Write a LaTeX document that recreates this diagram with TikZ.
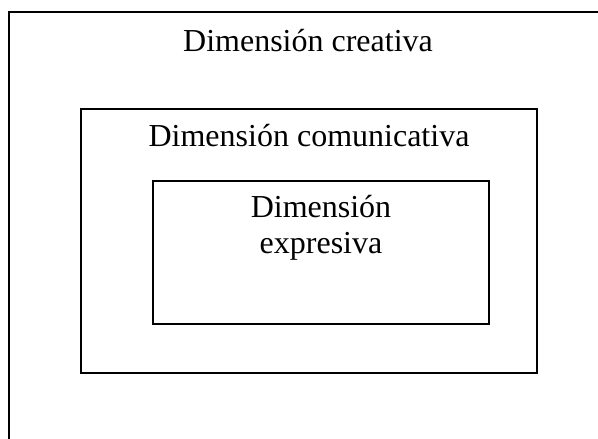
\documentclass[tikz,border=0pt]{standalone}
\usepackage{fontspec}
\setmainfont{Liberation Serif}
\usetikzlibrary{positioning}

\begin{document}
\begin{tikzpicture}[x=0.5pt, y=-0.5pt,
    dimbox/.style={draw=black, line width=1pt, rectangle, inner sep=0pt},
    dimtext/.style={font=\fontsize{16}{18}\selectfont, anchor=base, inner sep=0pt, align=center}
]
\clip (0,0) rectangle (598,438);
\node[dimbox, minimum width=299pt, minimum height=219pt] (creativa) at (308,231) {};
\node[dimbox, minimum width=228pt, minimum height=132pt] (comunicativa) at (309,241) {};
\node[dimbox, minimum width=168pt, minimum height=71.5pt] (expresiva) at (321,252.5) {};
\node[dimtext] (creativatxt) at (308,52) {Dimensión creativa};
\node[dimtext] (comunicativatxt) at (309,147) {Dimensión comunicativa};
\node[dimtext] (expresivatxt) at (321,253) {Dimensión\\expresiva};
\end{tikzpicture}
\end{document}
